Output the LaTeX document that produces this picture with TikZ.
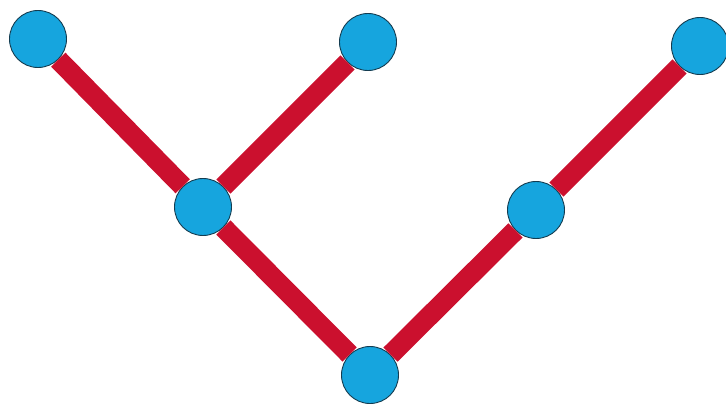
\documentclass[tikz,border=0pt]{standalone}
\usetikzlibrary{positioning}
\definecolor{vblue}{RGB}{22,165,222}
\definecolor{vedge}{RGB}{203,16,46}
\definecolor{vrim}{RGB}{20,60,80}
\tikzset{
  vert/.style={circle, draw=vrim, line width=0.9pt, fill=vblue, minimum size=57pt, inner sep=0pt},
  bar/.style={draw=vedge, line width=20pt}
}
\begin{document}
\begin{tikzpicture}[x=1pt, y=1pt]
\useasboundingbox (0,0) rectangle (726,405);
\node[vert] (ltop) at (38,366) {};
\node[vert] (mtop) at (368,363) {};
\node[vert] (rtop) at (700,359) {};
\node[vert] (lmid) at (203,198) {};
\node[vert] (rmid) at (536,195) {};
\node[vert] (root) at (370,30) {};
\draw[bar] (ltop) -- (lmid);
\draw[bar] (mtop) -- (lmid);
\draw[bar] (lmid) -- (root);
\draw[bar] (root) -- (rmid);
\draw[bar] (rmid) -- (rtop);
\end{tikzpicture}
\end{document}
